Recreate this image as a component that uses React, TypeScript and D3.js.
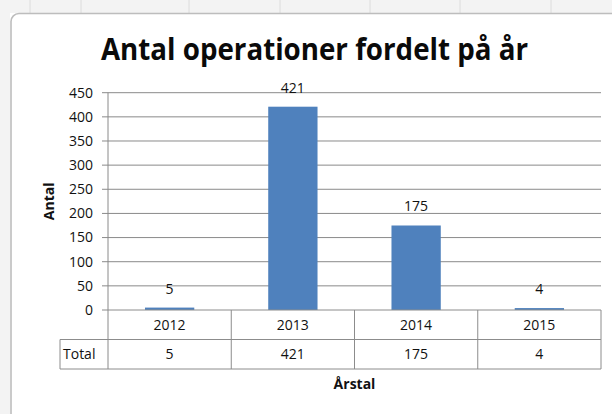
import React from "react";
import * as d3 from "d3";

const categories = ["2012", "2013", "2014", "2015"];
const values = [5, 421, 175, 4];
const yTicks = [0, 50, 100, 150, 200, 250, 300, 350, 400, 450];
const title = "Antal operationer fordelt på år";
const yTitle = "Antal";
const xTitle = "Årstal";
const seriesName = "Total";
const sheetColumnLines = [30, 81, 189, 280, 370, 460, 551];

const W = 612;
const H = 414;
const left = 108;
const right = 601;
const top = 92.7;
const bottom = 310;
const rowH = 29.5;
const FONT = "'Open Sans', 'Noto Sans', sans-serif";
const FS = 14;

export default function App() {
  const x = d3.scaleBand<string>().domain(categories).range([left, right]).paddingInner(0).paddingOuter(0);
  const y = d3.scaleLinear().domain([0, 450]).range([bottom, top]);
  const bw = x.bandwidth() * 0.4;
  const gridColor = "#8a8a8a";
  const tableColor = "#8c8c8c";
  const textColor = "#111";
  const row1 = bottom + rowH;
  const row2 = bottom + 2 * rowH;

  return (
    <svg
      width={W}
      height={H}
      style={{ position: "absolute", left: 0, top: 0, background: "#fff" }}
      fontFamily={FONT}
    >
      {/* spreadsheet strip */}
      <rect x={0} y={0} width={W} height={13} fill="#f3f3f3" />
      {sheetColumnLines.map((c, i) => (
        <line key={i} x1={c} x2={c} y1={0} y2={13} stroke="#dcdcdc" />
      ))}
      <rect x={0} y={0} width={10} height={H} fill="#f3f3f3" />
      {/* chart area */}
      <rect x={11} y={13.5} width={W + 20} height={H + 20} rx={8} fill="#fff" stroke="#bdbdbd" strokeWidth={1.6} />

      {/* title */}
      <text x={101} y={60} fontSize={30} fontWeight="bold" fill="#0a0a0a" textLength={427} lengthAdjust="spacingAndGlyphs">
        {title}
      </text>

      {/* gridlines */}
      {yTicks.map((t) => (
        <g key={t}>
          {t > 0 && <line x1={left} x2={right} y1={y(t)} y2={y(t)} stroke={gridColor} strokeWidth={1} />}
          <line x1={left - 6} x2={left} y1={y(t)} y2={y(t)} stroke={gridColor} strokeWidth={1} />
          <text x={93} y={y(t)} dy="0.35em" textAnchor="end" fontSize={FS} fill={textColor}>
            {t}
          </text>
        </g>
      ))}
      <line x1={left} x2={left} y1={top} y2={row2} stroke={gridColor} />

      {/* bars */}
      {categories.map((c, i) => (
        <g key={c}>
          <rect
            x={(x(c) as number) + (x.bandwidth() - bw) / 2}
            y={y(values[i])}
            width={bw}
            height={bottom - y(values[i])}
            fill="#4F81BD"
          />
          <text
            x={(x(c) as number) + x.bandwidth() / 2}
            y={y(values[i]) - 14}
            textAnchor="middle"
            fontSize={FS}
            fill={textColor}
          >
            {values[i]}
          </text>
        </g>
      ))}

      {/* data table */}
      <line x1={left} x2={right} y1={bottom} y2={bottom} stroke={tableColor} />
      <line x1={60} x2={right} y1={row1} y2={row1} stroke={tableColor} />
      <line x1={60} x2={right} y1={row2} y2={row2} stroke={tableColor} />
      <line x1={60} x2={60} y1={row1} y2={row2} stroke={tableColor} />
      {categories.map((c) => (
        <line
          key={c}
          x1={(x(c) as number) + x.bandwidth()}
          x2={(x(c) as number) + x.bandwidth()}
          y1={bottom}
          y2={row2}
          stroke={tableColor}
        />
      ))}
      {categories.map((c, i) => (
        <g key={c}>
          <text x={(x(c) as number) + x.bandwidth() / 2} y={(bottom + row1) / 2} dy="0.35em" textAnchor="middle" fontSize={FS} fill={textColor}>
            {c}
          </text>
          <text x={(x(c) as number) + x.bandwidth() / 2} y={(row1 + row2) / 2} dy="0.35em" textAnchor="middle" fontSize={FS} fill={textColor}>
            {values[i]}
          </text>
        </g>
      ))}
      <text x={63} y={(row1 + row2) / 2} dy="0.35em" fontSize={FS} fill={textColor}>
        {seriesName}
      </text>

      {/* axis titles */}
      <text
        transform={`translate(49,${(top + bottom) / 2}) rotate(-90)`}
        textAnchor="middle"
        dy="0.35em"
        fontSize={FS}
        fontWeight="bold"
        fill={textColor}
      >
        {yTitle}
      </text>
      <text x={(left + right) / 2} y={384} dy="0.35em" textAnchor="middle" fontSize={FS} fontWeight="bold" fill={textColor}>
        {xTitle}
      </text>
    </svg>
  );
}
